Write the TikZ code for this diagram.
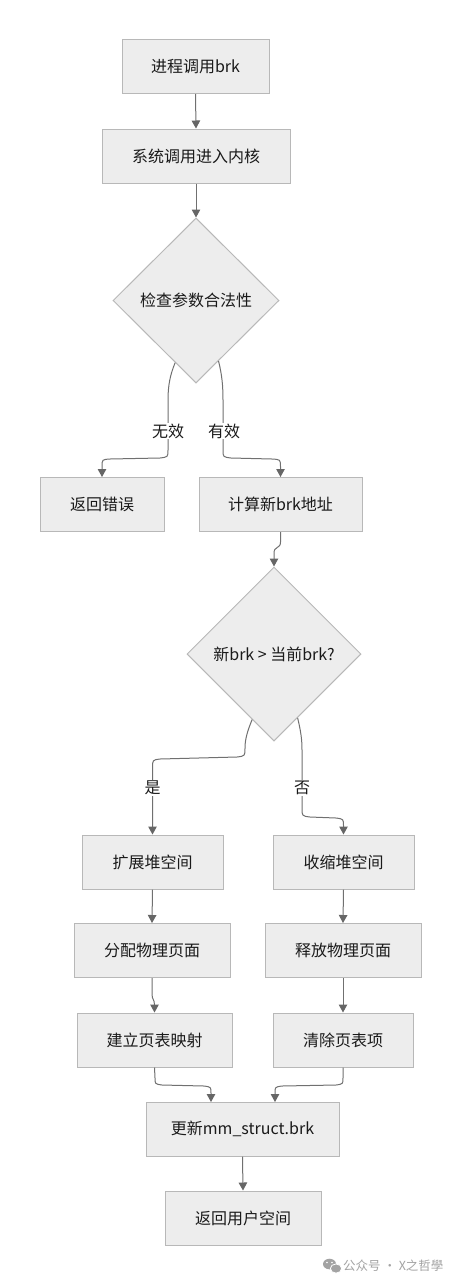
\documentclass[tikz,border=0pt]{standalone}
\usepackage{fontspec}
\setmainfont{Noto Sans CJK SC}
\usetikzlibrary{shapes.geometric,arrows.meta,calc}
\definecolor{boxfill}{HTML}{EDEDED}
\definecolor{boxline}{HTML}{B8B8B8}
\definecolor{edgecol}{HTML}{707070}
\definecolor{tipcol}{HTML}{666666}
\definecolor{txtcol}{HTML}{1A1A1A}
\definecolor{wmcol}{HTML}{A3A3A3}
\begin{document}
\begin{tikzpicture}[x=1pt,y=-1pt,
  box/.style={draw=boxline,fill=boxfill,line width=1pt,rectangle,inner sep=0pt,
    minimum height=54pt,text=txtcol,font=\fontsize{16pt}{19pt}\selectfont},
  dec/.style={draw=boxline,fill=boxfill,line width=1pt,diamond,inner sep=0pt,
    text=txtcol,font=\fontsize{16pt}{19pt}\selectfont},
  conn/.style={draw=edgecol,line width=1pt,-{Triangle[length=8pt,width=8.5pt,color=tipcol]}},
  elabel/.style={fill=white,inner sep=1pt,text=txtcol,font=\fontsize{16pt}{19pt}\selectfont}]
\useasboundingbox[fill=white] (0,0) rectangle (461,1285);

% nodes
\node[box,minimum width=147pt] (b1) at (195.5,66.5) {进程调用brk};
\node[box,minimum width=188pt] (b2) at (196,156) {系统调用进入内核};
\node[dec,minimum width=166pt,minimum height=165pt] (d1) at (196,300.5) {检查参数合法性};
\node[box,minimum width=124pt] (b3) at (102,504.5) {返回错误};
\node[box,minimum width=163pt] (b4) at (280.5,504.5) {计算新brk地址};
\node[dec,minimum width=174pt,minimum height=174pt] (d2) at (274,654) {新brk > 当前brk?};
\node[box,minimum width=141pt] (b5) at (152.5,862) {扩展堆空间};
\node[box,minimum width=141pt] (b6) at (343.5,862) {收缩堆空间};
\node[box,minimum width=156pt] (b7) at (152,950.5) {分配物理页面};
\node[box,minimum width=156pt] (b8) at (343,950.5) {释放物理页面};
\node[box,minimum width=155pt] (b9) at (154.5,1040) {建立页表映射};
\node[box,minimum width=140pt] (b10) at (343,1040) {清除页表项};
\node[box,minimum width=193pt] (b11) at (242.5,1129) {更新mm\_struct.brk};
\node[box,minimum width=156pt] (b12) at (243,1218) {返回用户空间};

% straight connectors
\draw[conn] (b1.south) -- (b2.north);
\draw[conn] (b2.south) -- (d1.north);
\draw[conn] (b5.south) -- (b7.north);
\draw[conn] (b6.south) -- (b8.north);
\draw[conn] (b8.south) -- (b10.north);
\draw[conn] (b11.south) -- (b12.north);

% decision 1 branches
\draw[conn] ($(d1.west)!0.75!(d1.south)$) .. controls (170,375) and (168,386) .. (168,400)
  -- (168,450) .. controls (168,457) .. (160,458) -- (110,459)
  .. controls (102,459.5) .. (102,467) -- (b3.north);
\draw[conn] ($(d1.east)!0.73!(d1.south)$) .. controls (222,375) and (223,386) .. (223,400)
  -- (223,450) .. controls (223,457) .. (231,458) -- (272,459)
  .. controls (280.5,459.5) .. (280.5,467) -- (b4.north);
\node[elabel] (l1) at (168,431) {无效};
\node[elabel] (l2) at (224,431) {有效};

% to decision 2
\draw[conn] (b4.south) -- (280.5,542) .. controls (280.5,549) and (274,546) .. (274,553) -- (d2.north);

% decision 2 branches
\draw[conn] ($(d2.west)!0.75!(d2.south)$) .. controls (247,732) and (245,740) .. (245,748)
  .. controls (245,756) .. (237,757) -- (160,759)
  .. controls (152.5,760) .. (152.5,768) -- (b5.north);
\draw[conn] ($(d2.east)!0.73!(d2.south)$) .. controls (301,732) and (302,740) .. (302,750)
  -- (302,808) .. controls (302,816) .. (310,817) -- (336,818)
  .. controls (343.5,819) .. (343.5,826) -- (b6.north);
\node[elabel] (l3) at (152.5,788) {是};
\node[elabel] (l4) at (302,788) {否};

% slight jog
\draw[conn] (b7.south) -- (152,994) .. controls (152,1000) and (154.5,999) .. (154.5,1005) -- (b9.north);

% merge
\draw[conn] (b9.south) -- (155,1078) .. controls (155,1084) .. (162,1085) -- (204,1086)
  .. controls (211,1087) .. (211,1093) -- (211,1102);
\draw[conn] (b10.south) -- (343,1078) .. controls (343,1084) .. (336,1085) -- (282,1086)
  .. controls (275,1087) .. (275,1093) -- (275,1102);

% watermark
\fill[wmcol] (329.5,1264) ellipse [x radius=6.5pt,y radius=5.3pt];
\fill[wmcol,draw=white,line width=0.8pt] (336,1268.5) ellipse [x radius=5.6pt,y radius=4.6pt];
\fill[white] (327,1262.5) circle (0.9pt) (332,1262.5) circle (0.9pt);
\node[text=wmcol,inner sep=0pt,anchor=west,font=\fontsize{12.5pt}{14pt}\selectfont] (wm) at (343,1266) {公众号 · X之哲學};
\end{tikzpicture}
\end{document}
